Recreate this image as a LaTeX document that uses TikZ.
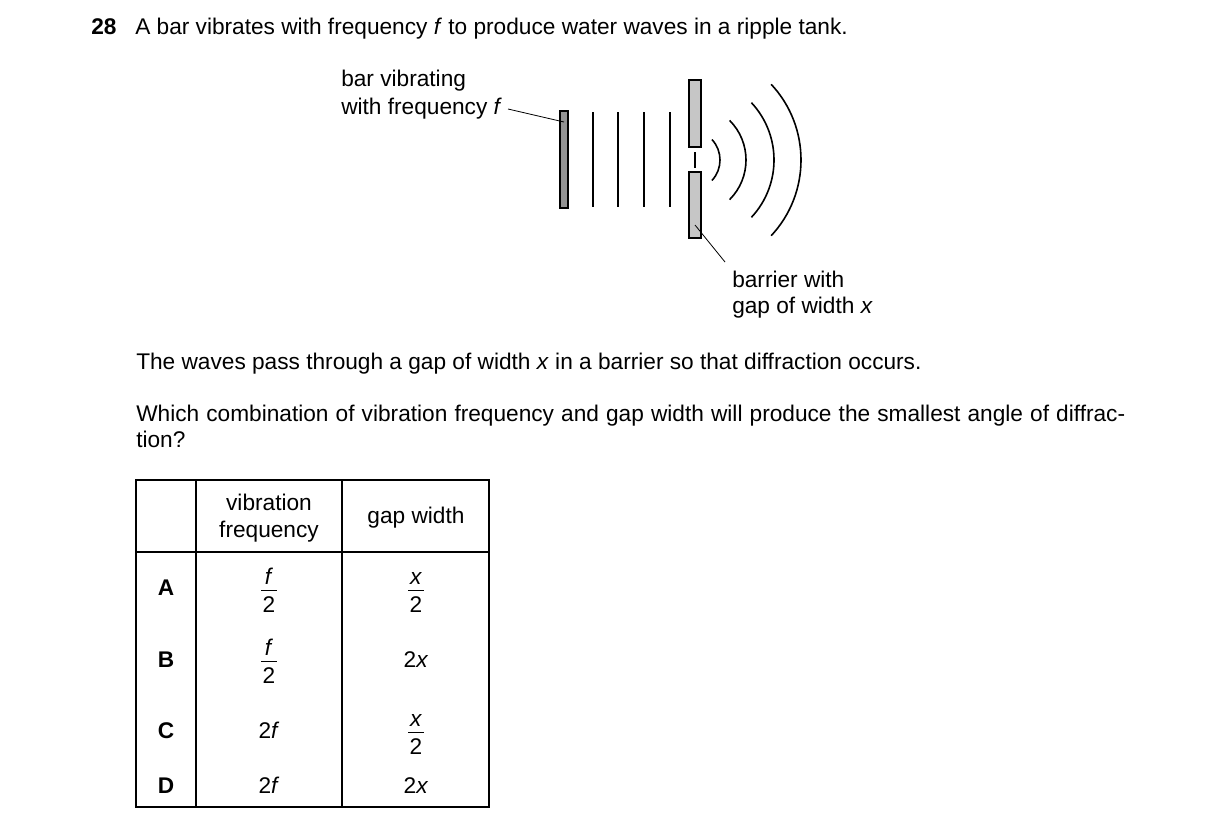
\documentclass[tikz,border=0pt]{standalone}
\usepackage{fontspec}
\setmainfont{Liberation Sans}
\begin{document}
\begin{tikzpicture}[x={(0.75pt,0)},y={(0,-0.75pt)},
  txt/.style={anchor=base west,inner sep=0pt,font=\fontsize{17}{19.5}\selectfont},
  ctr/.style={anchor=base,inner sep=0pt,font=\fontsize{17}{19.5}\selectfont},
  bold/.style={ctr,font=\fontsize{17}{19.5}\selectfont\bfseries},
  wline/.style={line width=1.2pt},
  leader/.style={line width=0.6pt}]
\useasboundingbox (0,0) rectangle (1216,832);
\node[txt,font=\fontsize{17}{19.5}\selectfont\bfseries] (n28) at (91,34) {28};
\node[txt] (t1) at (135,34) {A bar vibrates with frequency \textit{f} to produce water waves in a ripple tank.};
\node[txt] (l1) at (341,86) {bar vibrating};
\node[txt] (l2) at (341,114) {with frequency \textit{f}};
\node[txt] (l3) at (732,287) {barrier with};
\node[txt] (l4) at (732,313) {gap of width \textit{x}};
\node[txt] (t2) at (136,369) {The waves pass through a gap of width \textit{x} in a barrier so that diffraction occurs.};
\node[txt,text width=989*0.75pt,align=justify] (t3) at (136,421) {Which combination of vibration frequency and gap width will produce the smallest angle of diffraction?};
% bar
\draw[line width=1.2pt,fill=gray!85] (560,111) rectangle (568,208);
\node[inner sep=0pt] (bar) at (564,122) {};
\draw[leader] (508,109) -- (bar.center);
\foreach \x in {593,618,644,670} \draw[wline] (\x,112) -- (\x,207);
% barrier
\draw[line width=1.2pt,fill=gray!45] (689,80) rectangle (701,147);
\draw[line width=1.2pt,fill=gray!45] (689,172) rectangle (701,238);
\draw[wline] (695,152) -- (695,168);
\coordinate (bp) at (695,225);
\draw[leader] (bp) -- (725,262);
% arcs
\foreach \r/\a in {30/43,56/45,84/43,111/43}
  \draw[wline] ([shift={(-\a:\r)}]690,160) arc (-\a:\a:\r);
% table
\draw[line width=0.8pt] (136,480) rectangle (489,807);
\draw[line width=0.8pt] (196,480) -- (196,807) (342,480) -- (342,807) (136,552) -- (489,552);
\node[ctr] (h1) at (269,510) {vibration};
\node[ctr] (h2) at (269,537) {frequency};
\node[ctr] (h3) at (416,523) {gap width};
\foreach \l/\y in {A/595,B/667,C/738,D/793} \node[bold] at (166,\y) {\l};
% fractions
\newcommand{\fr}[3]{\node[ctr] at (#1,#2-6) {#3}; \draw[line width=0.6pt] (#1-8,#2) -- (#1+8,#2); \node[ctr] at (#1,#2+22) {2};}
\fr{269}{590}{\textit{f}}
\fr{269}{661}{\textit{f}}
\fr{416}{590}{\textit{x}}
\fr{416}{732}{\textit{x}}
\node[ctr] at (416,667) {2\textit{x}};
\node[ctr] at (269,738) {2\textit{f}};
\node[ctr] at (269,793) {2\textit{f}};
\node[ctr] at (416,793) {2\textit{x}};
\end{tikzpicture}
\end{document}
